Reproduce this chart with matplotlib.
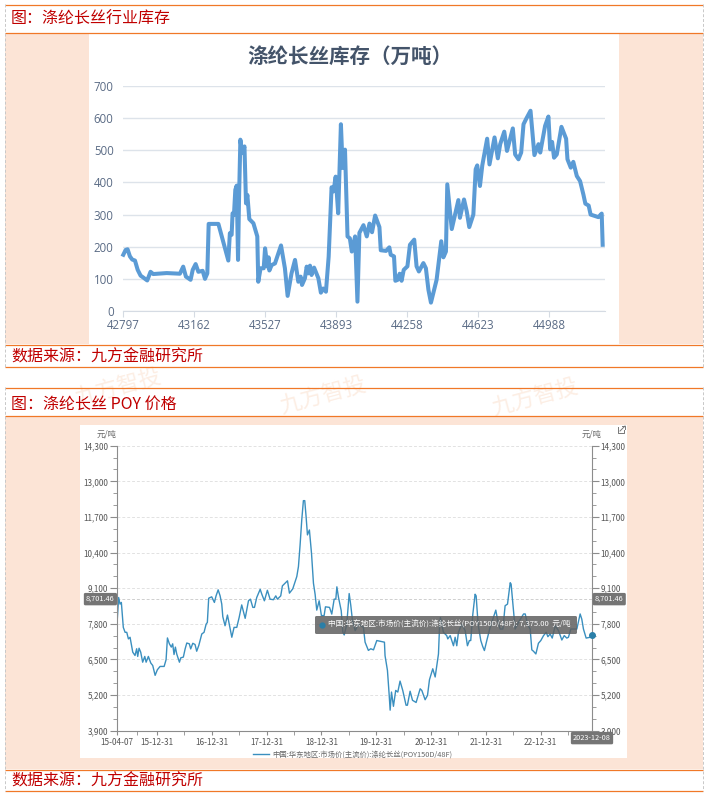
# -*- coding: utf-8 -*-
import datetime as dt
import matplotlib
matplotlib.use('Agg')
import matplotlib.pyplot as plt
from matplotlib.patches import Rectangle, FancyBboxPatch

plt.rcParams['font.family'] = ['Noto Sans CJK SC', 'DejaVu Sans']

# inventory chart: excel serial date, 10k tons
stock_x = [42797, 42809, 42819, 42831, 42843, 42857, 42871, 42886, 42900, 42920, 42937, 42951, 43020, 43088,
           43105, 43119, 43143, 43154, 43169, 43183, 43205, 43217, 43229, 43236, 43286, 43306, 43337, 43345,
           43354, 43359, 43366, 43373, 43380, 43387, 43392, 43399, 43408, 43420, 43428, 43435, 43445, 43466,
           43486, 43491, 43503, 43519, 43526, 43538, 43544, 43548, 43560, 43577, 43608, 43628, 43642, 43662,
           43680, 43697, 43709, 43716, 43731, 43740, 43748, 43757, 43765, 43778, 43800, 43813, 43825, 43839,
           43853, 43868, 43878, 43889, 43902, 43916, 43925, 43937, 43950, 43962, 43972, 43989, 44001, 44011,
           44032, 44049, 44063, 44076, 44092, 44114, 44121, 44148, 44165, 44172, 44189, 44196, 44208, 44218,
           44228, 44239, 44258, 44271, 44293, 44305, 44317, 44340, 44353, 44366, 44379, 44408, 44432, 44443,
           44456, 44463, 44486, 44520, 44528, 44549, 44563, 44576, 44597, 44609, 44617, 44631, 44643, 44668,
           44680, 44706, 44723, 44735, 44756, 44770, 44800, 44812, 44829, 44843, 44855, 44868, 44891, 44911,
           44932, 44941, 44966, 44983, 44992, 45002, 45012, 45026, 45050, 45074, 45081, 45098, 45111, 45129,
           45146, 45163, 45173, 45190, 45200, 45240, 45257, 45262]
stock_y = [175, 190, 192, 170, 160, 157, 128, 110, 104, 95, 122, 115, 118, 116,
           138, 107, 97, 128, 146, 122, 125, 100, 117, 271, 271, 226, 157, 242,
           237, 304, 299, 377, 390, 159, 346, 533, 491, 512, 335, 361, 286, 273,
           232, 91, 133, 133, 195, 138, 167, 126, 143, 148, 204, 133, 47, 117,
           159, 91, 107, 81, 102, 138, 117, 141, 112, 135, 102, 57, 70, 60,
           169, 385, 372, 418, 304, 581, 445, 502, 232, 226, 185, 232, 29, 243,
           267, 232, 272, 245, 297, 261, 189, 187, 198, 175, 170, 94, 97, 116,
           94, 128, 139, 206, 222, 139, 123, 149, 133, 66, 26, 97, 217, 167,
           185, 394, 255, 345, 290, 347, 310, 261, 300, 441, 453, 389, 453, 536,
           456, 540, 475, 519, 558, 498, 568, 487, 472, 493, 581, 597, 623, 485,
           519, 493, 576, 605, 503, 526, 477, 487, 573, 536, 472, 446, 464, 420,
           404, 362, 334, 328, 300, 292, 303, 206]
stock_ticks = [42797, 43162, 43527, 43893, 44258, 44623, 44988]
stock_yticks = [0, 100, 200, 300, 400, 500, 600, 700]

# price chart: days after 2015-04-07, yuan/ton
price_x = [0, 2, 13, 22, 31, 44, 56, 67, 78, 89, 107, 122, 133, 140, 149, 160, 173, 187, 196, 211, 227, 240, 256,
           271, 289, 316, 329, 338, 351, 364, 373, 382, 391, 400, 418, 427, 444, 456, 467, 484, 493, 507, 522, 533,
           547, 567, 582, 596, 604, 613, 633, 651, 662, 676, 689, 700, 707, 722, 738, 756, 767, 782, 800, 816, 833,
           856, 878, 891, 907, 918, 933, 956, 967, 984, 1004, 1022, 1044, 1060, 1071, 1093, 1104, 1138, 1151, 1173,
           1200, 1211, 1222, 1233, 1244, 1253, 1262, 1271, 1284, 1298, 1311, 1322, 1333, 1349, 1364, 1382, 1391,
           1418, 1433, 1449, 1460, 1467, 1478, 1496, 1507, 1516, 1533, 1549, 1560, 1571, 1589, 1610, 1644, 1655,
           1677, 1693, 1711, 1733, 1766, 1784, 1788, 1804, 1815, 1822, 1831, 1844, 1859, 1873, 1888, 1906, 1928,
           1937, 1955, 1971, 1995, 2022, 2033, 2055, 2071, 2084, 2106, 2122, 2144, 2151, 2157, 2177, 2199, 2206,
           2222, 2244, 2255, 2266, 2277, 2299, 2322, 2337, 2350, 2359, 2373, 2388, 2395, 2408, 2426, 2439, 2450,
           2466, 2488, 2506, 2526, 2537, 2555, 2573, 2588, 2604, 2622, 2628, 2644, 2655, 2677, 2711, 2722, 2737,
           2755, 2766, 2777, 2793, 2810, 2826, 2844, 2862, 2873, 2888, 2902, 2922, 2944, 2966, 2982, 2999, 3010,
           3026, 3044, 3066, 3088, 3099, 3110, 3128, 3155, 3167]
price_y = [7310, 7793, 8760, 8520, 8580, 7670, 7490, 7490, 7250, 7310, 6765, 6645, 6890, 6610, 6910, 6765, 6400,
           6610, 6400, 6610, 6370, 6280, 5920, 6125, 6245, 6245, 6490, 7285, 7070, 6950, 7070, 6680, 6950, 6700,
           6400, 6560, 6585, 6885, 7100, 7070, 6885, 7090, 7045, 6800, 7010, 7430, 7490, 7790, 7850, 8735, 8785,
           8580, 8820, 9040, 8820, 8520, 8060, 7730, 8120, 7610, 7310, 7670, 7670, 8035, 8490, 8000, 8640, 8700,
           8400, 8400, 8760, 9060, 8880, 8640, 9025, 8700, 8680, 8820, 8700, 8820, 9185, 9370, 8920, 9075, 9525,
           9890, 10680, 11590, 12295, 12295, 11710, 11045, 11225, 10375, 9280, 8880, 8300, 8640, 8100, 8100, 8420,
           8400, 8155, 8700, 8700, 9150, 8760, 8280, 7490, 7395, 7790, 8905, 8460, 7915, 7550, 7790, 7670, 7130,
           6830, 6890, 6850, 7190, 7150, 7130, 6640, 6100, 5250, 4650, 5310, 4790, 5370, 5310, 5710, 5370, 4830,
           4830, 5340, 5010, 4930, 5430, 5370, 5030, 5190, 5760, 6160, 5860, 6700, 7670, 8030, 7490, 7370, 7250,
           7370, 7000, 7310, 7000, 7490, 7790, 7550, 7000, 7190, 7190, 8160, 8880, 8820, 7790, 7190, 6970, 6825,
           7190, 7670, 7970, 8300, 7970, 7610, 7610, 8460, 8520, 9300, 9250, 8280, 7610, 7850, 8160, 8160, 7790,
           7610, 6850, 6800, 6700, 7090, 7190, 7370, 7490, 7330, 7430, 7280, 7730, 7550, 7210, 7370, 7280, 7310,
           7610, 7610, 7610, 8160, 7970, 7610, 7280, 7310, 7375]
price_yticks = [3900, 5200, 6500, 7800, 9100, 10400, 11700, 13000, 14300]
price_labels = ['15-04-07', '15-12-31', '16-12-31', '17-12-31', '18-12-31', '19-12-31', '20-12-31', '21-12-31', '22-12-31']
price_dates = [dt.date(2015, 4, 7), dt.date(2015, 12, 31), dt.date(2016, 12, 31), dt.date(2017, 12, 31),
               dt.date(2018, 12, 31), dt.date(2019, 12, 31), dt.date(2020, 12, 31), dt.date(2021, 12, 31),
               dt.date(2022, 12, 31)]
price_mid = [dt.date(2015, 8, 19), dt.date(2016, 6, 30), dt.date(2017, 6, 30), dt.date(2018, 6, 30),
             dt.date(2019, 6, 30), dt.date(2020, 6, 30), dt.date(2021, 6, 30), dt.date(2022, 6, 30),
             dt.date(2023, 6, 30)]
series_name = '中国:华东地区:市场价(主流价):涤纶长丝(POY150D/48F)'
last_close = 8701.46
last_value = 7375.00
last_date = '2023-12-08'

W, H = 709, 796
ORANGE = '#F07828'
PEACH = '#FCE4D6'
RED = '#C00000'

fig = plt.figure(figsize=(W / 100, H / 100), dpi=100, facecolor='white')


def axes_px(x0, y0, x1, y1):  # axes from pixel box, y going down
    return fig.add_axes([x0 / W, 1 - y1 / H, (x1 - x0) / W, (y1 - y0) / H])


# page furniture, drawn in pixel coordinates
page = fig.add_axes([0, 0, 1, 1])
page.set_xlim(0, W)
page.set_ylim(H, 0)
page.axis('off')

# watermark sits under the peach panels
for x, y in [(118, 388), (323, 396), (535, 398)]:
    page.text(x, y, '九方智投', color='#F4B183', alpha=0.22, fontsize=16, rotation=15, ha='center', va='center')

for top, bottom, px0, py0, px1, py1 in [(33, 344, 89, 33, 619, 344), (415.5, 769, 79.5, 425, 627, 758)]:
    page.add_patch(Rectangle((5, top), 698, bottom - top, fc=PEACH, ec='none', zorder=2))
    page.add_patch(Rectangle((px0, py0), px1 - px0, py1 - py0, fc='white', ec='none', zorder=2))
for y in [4.5, 32.5, 344.5, 366.5, 387.5, 415.5, 769.5, 790.5]:
    page.plot([5, 703], [y, y], color=ORANGE, lw=0.9, solid_capstyle='butt', zorder=3)
for x in [4.5, 702.5]:
    for y0, y1 in [(4, 367), (387, 791)]:
        page.plot([x, x], [y0, y1], color='#C8C8C8', lw=0.7, ls=(0, (3, 2)), zorder=3)

for y, s in [(19.5, '图：涤纶长丝行业库存'), (357, '数据来源：九方金融研究所'),
             (404, '图：涤纶长丝 POY 价格'), (781, '数据来源：九方金融研究所')]:
    page.text(11, y, s, color=RED, fontsize=11.5, va='center', ha='left', zorder=4)

page.text(350, 56, '涤纶长丝库存（万吨）', color='#44546A', fontsize=14.8, fontweight='bold', ha='center', va='center', zorder=4)

# top chart
ax1 = axes_px(123.3, 86, 605, 311)
ax1.patch.set_alpha(0)
ax1.plot(stock_x, stock_y, color='#5B9BD5', lw=2.9, solid_joinstyle='round', clip_on=False)
ax1.set_xlim(42797, 45274)
ax1.set_ylim(0, 700)
ax1.set_xticks(stock_ticks)
ax1.set_yticks(stock_yticks)
ax1.grid(axis='y', color='#DDE3EA', lw=1)
ax1.set_axisbelow(True)
for name in ['top', 'left', 'right']:
    ax1.spines[name].set_visible(False)
ax1.spines['bottom'].set_color('#D5DBE3')
ax1.tick_params(axis='y', length=0, pad=7, labelsize=8.3, labelcolor='#5A6B85', labelfontfamily='Open Sans')
ax1.tick_params(axis='x', length=4, color='#D5DBE3', pad=1.5, labelsize=8.3, labelcolor='#5A6B85', labelfontfamily='Open Sans')

# bottom chart
start = dt.date(2015, 4, 7)
ax2 = axes_px(116.7, 445.7, 592, 730.7)
ax2.patch.set_alpha(0)
ax2.set_xlim(0, 3167)
ax2.set_ylim(3900, 14300)
ax2.set_yticks(price_yticks)
ax2.set_yticks([v + d for v in price_yticks[:-1] for d in (433, 867)], minor=True)
ax2.set_yticklabels([f'{v:,}' for v in price_yticks])
ax2.set_xticks([(d - start).days for d in price_dates])
ax2.set_xticklabels(price_labels)
ax2.set_xticks([(d - start).days for d in price_mid], minor=True)
ax2.grid(axis='y', color='#E2E2E2', lw=0.7, ls=(0, (3, 2)))
ax2.set_axisbelow(True)
ax2.axhline(last_close, color='#CFCFCF', lw=0.7, ls=(0, (3, 2)))
line, = ax2.plot(price_x, price_y, color='#3A8FBF', lw=1.0, label=series_name)
ax2.plot(price_x[-1], price_y[-1], 'o', color='#2A7FA8', ms=4, clip_on=False, zorder=6)
ax2.spines['top'].set_visible(False)
for name in ['left', 'right', 'bottom']:
    ax2.spines[name].set_color('#8C8C8C')
ax2.tick_params(axis='y', which='major', length=5, color='#8C8C8C', labelsize=5.9, labelcolor='#555555', pad=1,
                left=True, right=True, labelleft=True, labelright=True)
ax2.tick_params(axis='y', which='minor', length=3, color='#8C8C8C', left=True, right=True)
ax2.tick_params(axis='x', which='both', length=3, color='#8C8C8C', labelsize=5.9, labelcolor='#555555', pad=2.5)
ax2.legend(handles=[line], loc='upper center', bbox_to_anchor=(0.497, -0.069), frameon=False, fontsize=5.3,
           labelcolor='#666666', handlelength=2.1, handletextpad=0.5, borderpad=0, borderaxespad=0)

page.text(107, 433.5, '元/吨', color='#666666', fontsize=6, ha='center', va='center', zorder=4)
page.text(592, 433.5, '元/吨', color='#666666', fontsize=6, ha='center', va='center', zorder=4)

# link icon top right of the panel
page.plot([618, 618, 624, 624], [427, 433, 433, 430], color='#777777', lw=0.7, zorder=4)
page.plot([620, 625], [431, 426], color='#777777', lw=0.7, zorder=4)
page.plot([622, 625, 625], [426, 426, 429], color='#777777', lw=0.7, zorder=4)

# axis pointer tags and tooltip
tag = dict(boxstyle='round,pad=0.3,rounding_size=0.2', fc='#757575', ec='none')
ax2.text(-0.004, last_close, f'{last_close:,.2f}', transform=ax2.get_yaxis_transform(), ha='right', va='center',
         color='white', fontsize=5.3, bbox=tag, zorder=8)
ax2.text(1.006, last_close, f'{last_close:,.2f}', transform=ax2.get_yaxis_transform(), ha='left', va='center',
         color='white', fontsize=5.3, bbox=tag, zorder=8)
ax2.text(price_x[-1], -0.012, last_date, transform=ax2.get_xaxis_transform(), ha='center', va='top',
         color='white', fontsize=5.3, bbox=tag, zorder=8)

over = fig.add_axes([0, 0, 1, 1])
over.set_xlim(0, W)
over.set_ylim(H, 0)
over.axis('off')
over.add_patch(FancyBboxPatch((315, 616), 262, 18, boxstyle='round,pad=0,rounding_size=1.5', fc='#5F5F5F', ec='none', alpha=0.85))
over.plot(322, 624.5, 'o', color='#2A7FA8', ms=3.5)
over.text(328, 624.5, f'{series_name}: {last_value:,.2f}  元/吨', color='white', fontsize=5.5, va='center', ha='left')

fig.savefig('out.png', dpi=100)
